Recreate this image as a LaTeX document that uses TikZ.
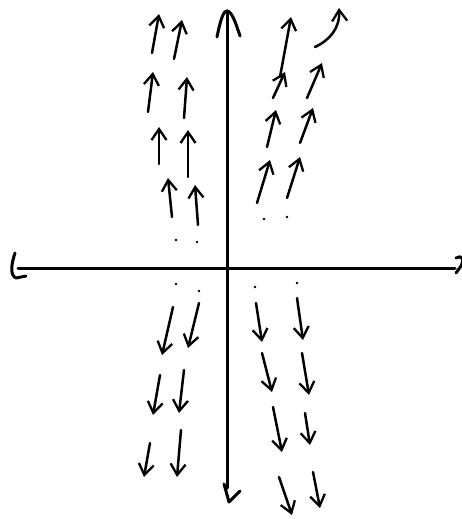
\documentclass[tikz,border=0pt]{standalone}
\usetikzlibrary{arrows.meta}
\begin{document}
\begin{tikzpicture}[x=1pt,y=-1pt,
  ink/.style={line width=2.5pt,line cap=round,line join=round},
  fa/.style={ink,-{Straight Barb[length=11pt,width=15pt,line width=2.3pt]}},
  axis/.style={line width=3pt,line cap=round,line join=round},
  dot/.style={fill=black}]
\useasboundingbox (0,0) rectangle (461,519);
% axes
\coordinate (ytop) at (227,11);
\coordinate (ybot) at (227,488);
\coordinate (xl) at (18,268);
\coordinate (xr) at (455,268);
\draw[axis] (ytop) -- (ybot);
\draw[axis] (217,37) .. controls (220,22) and (223,11) .. (ytop) .. controls (232,11) and (236,24) .. (240,36);
\draw[axis] (224,484) -- (229,502) -- (240,491);
\draw[axis] (xl) -- (xr);
\draw[axis] (15,253) .. controls (12,262) and (9,275) .. (16,278) -- (26,276);
\draw[axis] (456,258) .. controls (461,255) and (465,258) .. (461,266) -- (456,273);
% upward arrows
\foreach \a/\b/\c/\d in {
  152/53/159/14, 174/59/182/20,
  148/112/153/72, 184/118/187/77,
  159/164/159/127, 188/177/188/130,
  172/217/168/178, 198/225/195/185,
  280/77/291/17,
  273/98/285/72, 307/98/322/63,
  267/147/276/110, 300/143/313/108,
  257/203/270/160, 287/198/300/157}
  \draw[fa] (\a,\b) -- (\c,\d);
\draw[fa] (315,47) .. controls (330,40) and (340,28) .. (339,8);
% downward arrows
\foreach \a/\b/\c/\d in {
  173/307/162/355, 199/303/188/348,
  160/375/153/415, 184/370/179/413,
  150/443/144/477, 181/430/177/477,
  256/303/262/342, 297/298/303/340,
  262/353/272/392, 302/353/309/395,
  273/407/282/452, 305/413/310/445,
  279/477/292/515, 313/472/320/508}
  \draw[fa] (\a,\b) -- (\c,\d);
% dots
\foreach \a/\b in {176/240, 197/242, 264/219, 287/217,
  176/284, 199/291, 255/287, 297/283}
  \fill (\a,\b) circle (1.4);
\end{tikzpicture}
\end{document}
